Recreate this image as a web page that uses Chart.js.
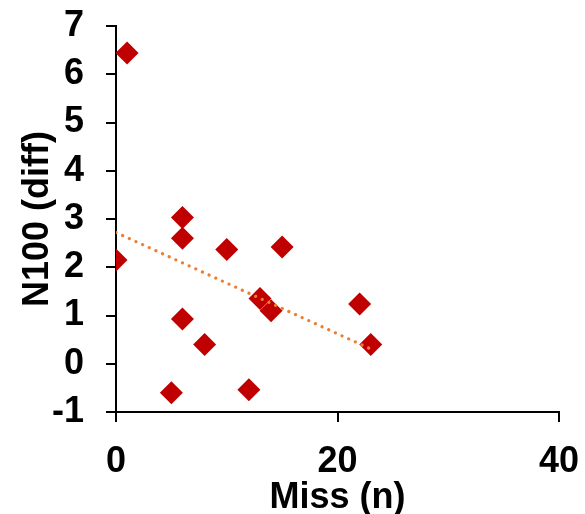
<!DOCTYPE html>
<html>
<head>
<meta charset="utf-8">
<script src="https://cdn.jsdelivr.net/npm/chart.js@4"></script>
<style>
  html, body { margin: 0; padding: 0; background: #fff; }
  #wrap { width: 585px; height: 514px; }
</style>
</head>
<body>
<div id="wrap"><canvas id="myChart" width="585" height="514"></canvas></div>
<script>
// misses per subject and the N100 difference
var missCounts = [0, 1, 5, 6, 6, 6, 8, 10, 12, 13, 14, 15, 22, 23];
var n100Diff = [2.15, 6.44, -0.6, 3.03, 2.6, 0.93, 0.4, 2.37, -0.54, 1.35, 1.1, 2.42, 1.24, 0.4];
var xTicks = [0, 20, 40];
var yTicks = [-1, 0, 1, 2, 3, 4, 5, 6, 7];

// least squares fit for the trend line
function linearFit(xs, ys) {
  var n = xs.length, sx = 0, sy = 0, sxy = 0, sxx = 0;
  for (var i = 0; i < n; i++) {
    sx += xs[i]; sy += ys[i];
    sxy += xs[i] * ys[i]; sxx += xs[i] * xs[i];
  }
  var slope = (n * sxy - sx * sy) / (n * sxx - sx * sx);
  var intercept = (sy - slope * sx) / n;
  return { slope: slope, intercept: intercept };
}

// keep the plot box fixed: no extra room for overhanging labels
function noPadding(axis) {
  axis.paddingTop = 0;
  axis.paddingBottom = 0;
  axis.paddingLeft = 0;
  axis.paddingRight = 0;
}

window.onload = function() {
  var points = missCounts.map(function(x, i) {
    return { x: x, y: n100Diff[i] };
  });

  var fit = linearFit(missCounts, n100Diff);
  var xMin = Math.min.apply(null, missCounts);
  var xMax = Math.max.apply(null, missCounts);
  var trend = [
    { x: xMin, y: fit.intercept + fit.slope * xMin },
    { x: xMax, y: fit.intercept + fit.slope * xMax }
  ];

  var font = { family: "'Liberation Sans', Arial, sans-serif", size: 36, weight: "bold" };
  var xTitleFont = { family: font.family, size: 36, weight: "bold", lineHeight: 0.9 };

  var ctx = document.getElementById("myChart").getContext("2d");
  var chart = new Chart(ctx, {
    type: "scatter",
    data: {
      datasets: [
        {
          type: "line",
          label: "Trend",
          data: trend,
          order: 0,
          borderColor: "#ED7D31",
          borderWidth: 3.2,
          borderDash: [0.01, 7.3],
          borderCapStyle: "round",
          pointRadius: 0,
          fill: false
        },
        {
          label: "N100",
          data: points,
          order: 1,
          pointStyle: "rectRot",
          pointRadius: 11.5,
          pointHoverRadius: 11.5,
          backgroundColor: "#C00000",
          borderColor: "#C00000",
          borderWidth: 0
        }
      ]
    },
    options: {
      responsive: false,
      animation: false,
      layout: { padding: { top: 26, right: 26, left: 0, bottom: 0 } },
      plugins: {
        legend: { display: false },
        tooltip: { enabled: false }
      },
      scales: {
        x: {
          type: "linear",
          min: 0,
          max: 40,
          afterBuildTicks: function(axis) {
            axis.ticks = xTicks.map(function(v) { return { value: v }; });
          },
          afterFit: function(axis) { axis.height = 102; noPadding(axis); },
          border: { color: "#000", width: 2 },
          grid: { drawOnChartArea: false, color: "#000", lineWidth: 2, tickLength: 10 },
          ticks: { color: "#000", font: font, padding: 18, maxRotation: 0, autoSkip: false },
          title: { display: true, text: "Miss (n)", color: "#000", font: xTitleFont, padding: 0 }
        },
        y: {
          min: -1,
          max: 7,
          afterBuildTicks: function(axis) {
            axis.ticks = yTicks.map(function(v) { return { value: v }; });
          },
          afterFit: function(axis) { axis.width = 116; noPadding(axis); },
          border: { color: "#000", width: 2 },
          grid: { drawOnChartArea: false, color: "#000", lineWidth: 2, tickLength: 10 },
          ticks: { color: "#000", font: font, padding: 22, autoSkip: false },
          title: { display: true, text: "N100 (diff)", color: "#000", font: font, padding: { top: 16, bottom: 0 } }
        }
      }
    }
  });
};
</script>
</body>
</html>
